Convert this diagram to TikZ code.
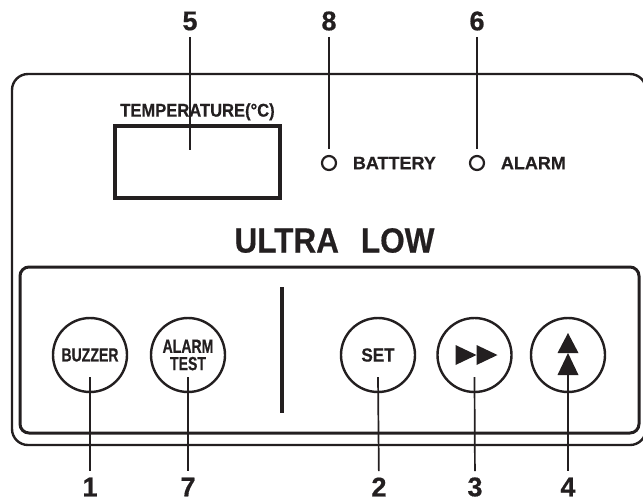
\documentclass[tikz,border=0pt]{standalone}
\usepackage{fontspec}
\setmainfont{Liberation Sans}
\newfontfamily\heavyfont[FakeBold=0.6]{Liberation Sans}
\newfontfamily\narrowfont[FakeStretch=0.74,FakeBold=0.5]{Liberation Sans}
\newfontfamily\semifont[FakeStretch=0.9,FakeBold=0.5]{Liberation Sans}
\usepackage{xcolor}
\definecolor{cInk}{HTML}{231F20}
\usetikzlibrary{positioning,calc}
\tikzset{
  panel-outer/.style={draw=cInk,line width=1.2pt,rounded corners=8pt},
  panel-inner/.style={draw=cInk,line width=1.5pt,rounded corners=4.5pt},
  node-btn/.style={draw=cInk,line width=1.2pt,circle,minimum size=37pt,
    inner sep=0pt,align=center,text=cInk,
    font=\narrowfont\bfseries\fontsize{9.5}{8.7}\selectfont},
  node-display/.style={draw=cInk,line width=1.6pt,minimum width=82.5pt,
    minimum height=36pt,inner sep=0pt},
  node-temp/.style={inner sep=0pt,text=cInk,
    font=\semifont\bfseries\fontsize{9.2}{9.2}\selectfont},
  node-led/.style={draw=cInk,line width=1.1pt,circle,minimum size=7pt,inner sep=0pt},
  node-ledtext/.style={inner sep=0pt,text=cInk,font=\heavyfont\bfseries\fontsize{9}{9}\selectfont},
  node-title/.style={inner sep=0pt,text=cInk,
    font=\semifont\bfseries\fontsize{17.5}{17.5}\selectfont},
  node-num/.style={inner sep=3pt,text=cInk,font=\heavyfont\bfseries\fontsize{13.5}{13.5}\selectfont},
  lead/.style={draw=cInk,line width=0.85pt},
}

\begin{document}
\begin{tikzpicture}[x=0.5pt,y=-0.5pt]
  \useasboundingbox (0,0) rectangle (643,500);
  \clip (0,0) rectangle (643,500);
  % housing and key strip
  \draw[panel-outer] (12,74) rectangle (646,445);
  \draw[panel-inner] (20,267) rectangle (639,433);
  \draw[cInk,line width=2.3pt] (282,287) -- (282,413);

  % display and indicator lamps
  \node[node-display] (disp) at (197.5,162) {};
  \node[node-temp,above=1.8pt of disp] (temp) {TEMPERATURE(°C)};
  \node[node-led] (led8) at (329,163) {};
  \node[node-ledtext,right=7.7pt of led8] (bat) {BATTERY};
  \node[node-led] (led6) at (477,163) {};
  \node[node-ledtext,right=7.7pt of led6] (alm) {ALARM};
  \node[node-title] (title) at (334.5,240.5) {ULTRA\hspace{11pt}LOW};

  % keys
  \node[node-btn] (b1) at (90,355) {BUZZER};
  \node[node-btn] (b7) at (188,355) {ALARM\\TEST};
  \node[node-btn,font=\semifont\bfseries\fontsize{9.5}{9.5}\selectfont] (b2) at (378,355) {SET};
  \node[node-btn] (b3) at (474.5,355) {};
  \node[node-btn] (b4) at (568,355) {};
  \fill[cInk] ($(b3)+(-19,-10)$) -- ++(0,20) -- ++(21,-10) -- cycle;
  \fill[cInk] ($(b3)+(2,-10)$) -- ++(0,20) -- ++(21,-10) -- cycle;
  \fill[cInk] ($(b4)+(-10.5,-2)$) -- ++(21,0) -- ++(-10.5,-20) -- cycle;
  \fill[cInk] ($(b4)+(-10.5,20)$) -- ++(21,0) -- ++(-10.5,-22) -- cycle;

  % callout numbers
  \node[node-num] (n5) at (190,21) {5};
  \node[node-num] (n8) at (329,21) {8};
  \node[node-num] (n6) at (477,21) {6};
  \node[node-num] (n1) at (90,487) {1};
  \node[node-num] (n7) at (188,487) {7};
  \node[node-num] (n2) at (379,487) {2};
  \node[node-num] (n3) at (475,487) {3};
  \node[node-num] (n4) at (568,487) {4};

  \coordinate (t5) at (190,150);
  \coordinate (t1) at ([yshift=-11pt]b1.center);
  \coordinate (t7) at ([yshift=-11pt]b7.center);
  \coordinate (t2) at ([yshift=-11pt]b2.center);
  \coordinate (t3) at ([yshift=-11pt]b3.center);
  \coordinate (t4) at ([yshift=-10pt]b4.center);
  \draw[lead] (n5) -- (t5);
  \draw[lead] (n8) -- ([yshift=3pt]led8.north);
  \draw[lead] (n6) -- ([yshift=3pt]led6.north);
  \foreach \k in {1,7,2,3,4}
    \draw[lead] (t\k) -- (n\k);
\end{tikzpicture}
\end{document}
